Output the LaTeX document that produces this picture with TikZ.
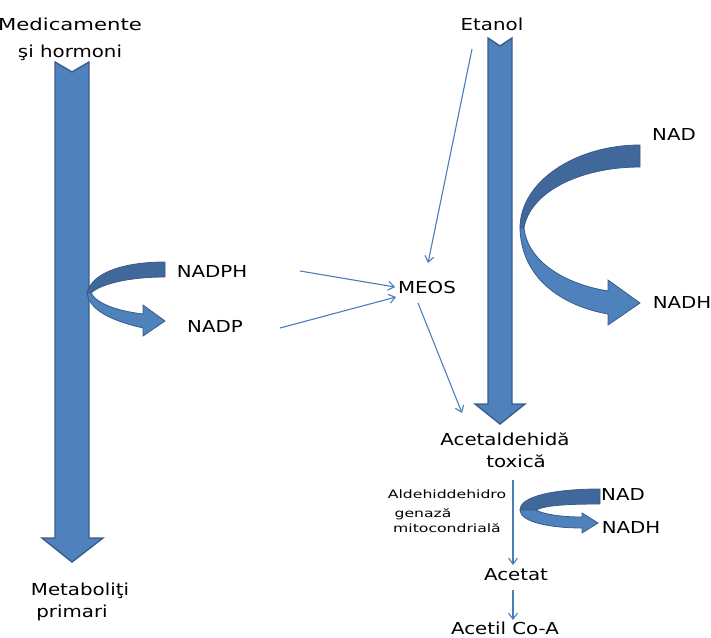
\documentclass[tikz,border=0pt]{standalone}
\usepackage{fontspec}
\setmainfont{DejaVu Sans}
\usetikzlibrary{arrows.meta}
\definecolor{bfill}{HTML}{4F81BD}
\definecolor{bline}{HTML}{385D8A}
\definecolor{bdark}{HTML}{41689A}
\definecolor{thin}{HTML}{4A7EBB}
\tikzset{
  lbl/.style={font=\fontsize{16.5}{19}\selectfont, text=black, inner sep=0pt, anchor=base, xscale=1.2, transform shape},
  small/.style={font=\fontsize{11.5}{14}\selectfont, text=black, inner sep=0pt, anchor=base, xscale=1.36, transform shape},
  bigarrow/.style={fill=bfill, draw=bline, line width=1.4pt, line join=miter},
  darkband/.style={fill=bdark, draw=bline, line width=0.8pt},
  lightband/.style={fill=bfill, draw=bline, line width=0.8pt},
  thinarrow/.style={draw=thin, line width=1.1pt, -{Straight Barb[length=6pt,width=9pt]}}
}
\begin{document}
\begin{tikzpicture}[x=1pt,y=-1pt]
\path[use as bounding box] (0,0) rectangle (711,637);

% left big arrow
\draw[bigarrow] (55,62) -- (72,72) -- (89,62) -- (89,538) -- (103,538) -- (72,562) -- (42,538) -- (55,538) -- cycle;
% right big arrow
\draw[bigarrow] (488,38) -- (500,46) -- (512,38) -- (512,404) -- (525,404) -- (500,424) -- (475,404) -- (488,404) -- cycle;

% right curved arrow
\draw[darkband] (640,145) .. controls (575,145) and (520,182) .. (520,228) -- (524,228) .. controls (530,192) and (580,167) .. (640,167) -- cycle;
\draw[lightband] (520,228) .. controls (521,278) and (562,306) .. (608,314) -- (608,325) -- (640,303) -- (608,280) -- (608,291) .. controls (565,284) and (528,262) .. (524,228) -- cycle;

% left small curved arrow
\draw[darkband] (165,262) .. controls (125,262) and (92,272) .. (87,293) -- (91,293) .. controls (102,283) and (132,277) .. (165,277) -- cycle;
\draw[lightband] (87,293) .. controls (90,313) and (118,322) .. (143,328) -- (143,336) -- (165,321) -- (143,305) -- (143,314) .. controls (118,311) and (97,304) .. (91,293) -- cycle;

% bottom small curved arrow
\draw[darkband] (600,489) .. controls (555,489) and (520,496) .. (520,510) -- (536,510) .. controls (546,505) and (570,504) .. (600,504) -- cycle;
\draw[lightband] (520,510) .. controls (520,522) and (550,528) .. (582,528) -- (582,533) -- (598,523) -- (582,513) -- (582,517) .. controls (560,517) and (543,514) .. (536,510) -- cycle;

% labels
\node[lbl, xscale=1.07] (med) at (70,30) {Medicamente};
\node[lbl] (hor) at (70,57) {şi hormoni};
\node[lbl] (eta) at (492,30) {Etanol};
\node[lbl] (nad1) at (674,140) {NAD};
\node[lbl] (nadh1) at (682,308) {NADH};
\node[lbl] (meos) at (427,293) {MEOS};
\node[lbl] (nadph) at (212,277) {NADPH};
\node[lbl] (nadp) at (215,332) {NADP};
\node[lbl] (acd) at (505,445) {Acetaldehidă};
\node[lbl] (tox) at (516,467) {toxică};
\node[small] (ald) at (447,498) {Aldehiddehidro};
\node[small] (gen) at (423,517) {genază};
\node[small] (mit) at (447,532) {mitocondrială};
\node[lbl] (nad2) at (623,500) {NAD};
\node[lbl] (nadh2) at (631,533) {NADH};
\node[lbl] (act) at (516,580) {Acetat};
\node[lbl] (acoa) at (505,634) {Acetil Co-A};
\node[lbl] (met) at (80,595) {Metaboliţi};
\node[lbl] (pri) at (72,617) {primari};

% thin arrow endpoints
\coordinate (e1s) at (472,49);  \coordinate (e1e) at (428,263);
\coordinate (e2s) at (300,271); \coordinate (e2e) at (395,287);
\coordinate (e3s) at (280,328); \coordinate (e3e) at (396,297);
\coordinate (e4s) at (418,303); \coordinate (e4e) at (462,413);
\coordinate (e5s) at (513,480); \coordinate (e5e) at (513,565);
\coordinate (e6s) at (513,590); \coordinate (e6e) at (513,620);
\draw[thinarrow] (e1s) -- (e1e);
\draw[thinarrow] (e2s) -- (e2e);
\draw[thinarrow] (e3s) -- (e3e);
\draw[thinarrow] (e4s) -- (e4e);
\draw[thinarrow] (e5s) -- (e5e);
\draw[thinarrow] (e6s) -- (e6e);
\end{tikzpicture}
\end{document}
